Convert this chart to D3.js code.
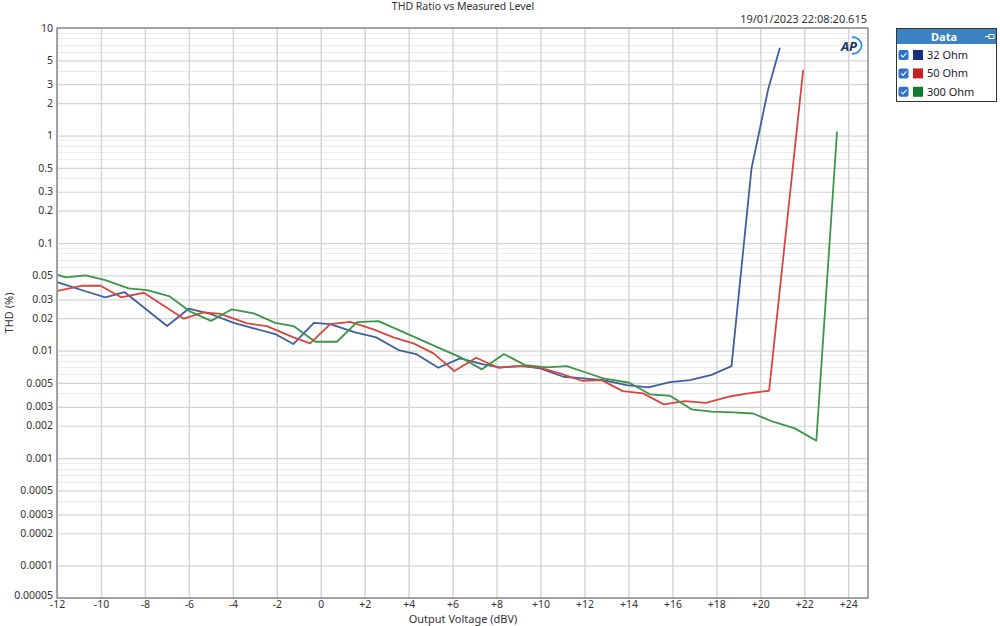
<!DOCTYPE html>
<html>
<head>
<meta charset="utf-8">
<script src="https://cdn.jsdelivr.net/npm/d3@7/dist/d3.min.js"></script>
<style>
  html, body { margin: 0; padding: 0; background: #ffffff; }
  svg { display: block; }
  text { font-family: "Noto Sans", "Open Sans", sans-serif; }
</style>
</head>
<body>
<svg id="chart" width="1000" height="626"></svg>
<script>
// ---- Data ----
const seriesNames = ["32 Ohm", "50 Ohm", "300 Ohm"];
const lineColors = ["#3f5f9f", "#d8463f", "#3b9649"];
const swatchColors = ["#13307a", "#c8201e", "#0e7a2e"];

const blueX = [-11.96, -10.78, -9.80, -8.93, -6.99, -6.01, -5.02, -3.96, -3.05, -2.07, -1.25, -0.31, 0.43, 1.57, 2.52, 3.54, 4.34, 5.35, 6.34, 7.40, 8.16, 9.22, 9.98, 11.04, 11.95, 12.85, 13.92, 14.90, 15.89, 16.80, 17.78, 18.69, 19.60, 20.35, 20.89];
const blueY = [0.0431, 0.0360, 0.0313, 0.0350, 0.0169, 0.0245, 0.0219, 0.0181, 0.0161, 0.01424, 0.01150, 0.0181, 0.01764, 0.01477, 0.01327, 0.01011, 0.00928, 0.00692, 0.00846, 0.00744, 0.00698, 0.00717, 0.00683, 0.00571, 0.00551, 0.00531, 0.00478, 0.00455, 0.00509, 0.00531, 0.00595, 0.00717, 0.495, 2.65, 6.56];

const redX = [-11.96, -10.85, -10.02, -9.08, -8.05, -6.23, -5.33, -4.57, -3.35, -2.45, -1.24, -0.48, 0.43, 1.34, 2.40, 3.31, 4.22, 5.13, 6.08, 7.07, 8.08, 9.07, 9.98, 10.89, 11.87, 12.78, 13.74, 14.67, 15.61, 16.57, 17.52, 18.54, 19.45, 20.40, 21.95];
const redY = [0.0360, 0.0401, 0.0401, 0.0313, 0.0345, 0.0198, 0.0227, 0.0219, 0.0179, 0.0169, 0.01327, 0.01167, 0.01764, 0.01853, 0.01575, 0.01327, 0.01167, 0.00942, 0.00645, 0.00857, 0.00692, 0.00722, 0.00692, 0.00614, 0.00524, 0.00531, 0.00420, 0.00400, 0.00316, 0.00339, 0.00327, 0.00372, 0.00400, 0.00423, 4.07];

const greenX = [-11.96, -11.61, -10.70, -9.80, -8.74, -7.90, -6.87, -5.93, -4.99, -4.04, -3.05, -2.07, -1.24, -0.25, 0.74, 1.65, 2.63, 5.43, 6.34, 7.33, 8.34, 9.30, 10.28, 11.19, 12.10, 12.85, 14.04, 14.98, 15.89, 16.87, 17.78, 18.77, 19.67, 20.58, 21.57, 22.55, 23.49];
const greenY = [0.0507, 0.0480, 0.0501, 0.0453, 0.0379, 0.0365, 0.0319, 0.0230, 0.0189, 0.0242, 0.0222, 0.0181, 0.0169, 0.01208, 0.01208, 0.01841, 0.01881, 0.01048, 0.00870, 0.00669, 0.00928, 0.00733, 0.00698, 0.00717, 0.00622, 0.00551, 0.00502, 0.00392, 0.00380, 0.00284, 0.00270, 0.00266, 0.00260, 0.00218, 0.00189, 0.00145, 1.085];

const xTicks = [-12, -10, -8, -6, -4, -2, 0, 2, 4, 6, 8, 10, 12, 14, 16, 18, 20, 22, 24];
const yTicks = [10, 5, 3, 2, 1, 0.5, 0.3, 0.2, 0.1, 0.05, 0.03, 0.02, 0.01, 0.005, 0.003, 0.002, 0.001, 0.0005, 0.0003, 0.0002, 0.0001, 0.00005];
const yTickLabels = ["10", "5", "3", "2", "1", "0.5", "0.3", "0.2", "0.1", "0.05", "0.03", "0.02", "0.01", "0.005", "0.003", "0.002", "0.001", "0.0005", "0.0003", "0.0002", "0.0001", "0.00005"];
const yMinorMantissas = [4, 6, 7, 8, 9];
const decades = [0.0001, 0.001, 0.01, 0.1, 1];

const titleText = "THD Ratio vs Measured Level";
const stampText = "19/01/2023 22:08:20.615";
const xLabelText = "Output Voltage (dBV)";
const yLabelText = "THD (%)";

// ---- Layout ----
const L = 57, R = 868, T = 28, B = 598;
const svg = d3.select("#chart");

const x = d3.scaleLinear().domain([-12, 24.9]).range([L, R]);
const y = d3.scaleLog().domain([0.00005, 10]).range([B, T]);

// minor gridlines
const minorVals = [];
decades.forEach(d => yMinorMantissas.forEach(m => minorVals.push(m * d)));
const gMinor = svg.append("g");
gMinor.selectAll("line").data(minorVals.filter(v => v > 0.00005 && v < 10)).enter().append("line")
  .attr("x1", L).attr("x2", R)
  .attr("y1", d => Math.round(y(d)) + 0.5).attr("y2", d => Math.round(y(d)) + 0.5)
  .attr("stroke", "#ececec").attr("stroke-width", 1);

// major gridlines via axes
const yAxis = d3.axisLeft(y).tickValues(yTicks).tickSize(-(R - L)).tickFormat((d, i) => yTickLabels[i]);
const gy = svg.append("g").attr("transform", `translate(${L},0)`).call(yAxis);
gy.select(".domain").remove();
gy.selectAll(".tick line").attr("stroke", "#d4d4d4").attr("stroke-width", 1.2);
gy.selectAll(".tick text").attr("x", -4).attr("dy", "0.3em").attr("fill", "#333").style("font-size", "10.5px")
  .style("font-family", "'Noto Sans', sans-serif");
// lowest label sits slightly higher, as in the reference
gy.selectAll(".tick text").filter(d => d === 0.00005).attr("dy", "0.05em");

const xAxis = d3.axisBottom(x).tickValues(xTicks).tickSize(-(B - T))
  .tickFormat(d => d > 0 ? "+" + d : String(d));
const gx = svg.append("g").attr("transform", `translate(0,${B})`).call(xAxis);
gx.select(".domain").remove();
gx.selectAll(".tick line").attr("stroke", "#d4d4d4").attr("stroke-width", 1.4);
gx.selectAll(".tick text").attr("y", 3).attr("fill", "#333").style("font-size", "10.5px")
  .style("font-family", "'Noto Sans', sans-serif");

// plot frame
svg.append("rect").attr("x", L).attr("y", T).attr("width", R - L).attr("height", B - T)
  .attr("fill", "none").attr("stroke", "#8a8a8a").attr("stroke-width", 1.5);

// lines
const seriesX = [blueX, redX, greenX];
const seriesY = [blueY, redY, greenY];
const line = d3.line().x(d => x(d[0])).y(d => y(d[1]));
seriesX.forEach((xs, i) => {
  const pts = xs.map((v, j) => [v, seriesY[i][j]]);
  svg.append("path").datum(pts).attr("d", line)
    .attr("fill", "none").attr("stroke", lineColors[i]).attr("stroke-width", 1.8)
    .attr("stroke-linejoin", "round");
});

// texts
svg.append("text").attr("x", 463).attr("y", 10).attr("text-anchor", "middle")
  .style("font-size", "10.5px").attr("fill", "#333").text(titleText);
svg.append("text").attr("x", 867).attr("y", 23).attr("text-anchor", "end")
  .style("font-size", "11px").attr("fill", "#333").text(stampText);
svg.append("text").attr("x", 463).attr("y", 623).attr("text-anchor", "middle")
  .style("font-size", "11px").attr("fill", "#333").text(xLabelText);
svg.append("text").attr("transform", "translate(13,313) rotate(-90)").attr("text-anchor", "middle")
  .style("font-size", "11px").attr("fill", "#333").text(yLabelText);

// AP logo
const logo = svg.append("g").attr("transform", "translate(850,46)");
logo.append("path").attr("d", "M 2 -9 A 9 8 0 0 1 2 8").attr("fill", "none")
  .attr("stroke", "#3c8fd6").attr("stroke-width", 1.8);
logo.append("text").attr("x", -1).attr("y", 4.5).attr("text-anchor", "middle")
  .style("font-size", "13px").style("font-weight", "bold").style("font-style", "italic")
  .attr("fill", "#1b3566").text("AP");

// legend
const lg = svg.append("g");
lg.append("rect").attr("x", 896.5).attr("y", 28.5).attr("width", 100).attr("height", 73)
  .attr("fill", "#fff").attr("stroke", "#333").attr("stroke-width", 1);
lg.append("rect").attr("x", 897).attr("y", 29).attr("width", 99).attr("height", 15).attr("fill", "#3a82c2");
lg.append("text").attr("x", 944).attr("y", 41).attr("text-anchor", "middle")
  .style("font-size", "11px").style("font-weight", "bold").attr("fill", "#fff").text("Data");
// pin icon
lg.append("path").attr("d", "M 985 36.5 L 989 36.5 M 989 34 L 989 39 M 989 34.5 L 994 34.5 L 994 38.5 L 989 38.5")
  .attr("fill", "none").attr("stroke", "#fff").attr("stroke-width", 1);
seriesNames.forEach((name, i) => {
  const cy = 55 + i * 18.4;
  lg.append("rect").attr("x", 898.5).attr("y", cy - 5).attr("width", 10).attr("height", 10).attr("rx", 2)
    .attr("fill", "#2f72c8");
  lg.append("path").attr("d", `M 901 ${cy} L 903 ${cy + 2} L 906.5 ${cy - 2}`)
    .attr("fill", "none").attr("stroke", "#fff").attr("stroke-width", 1.1);
  lg.append("rect").attr("x", 913).attr("y", cy - 5).attr("width", 10).attr("height", 10)
    .attr("fill", swatchColors[i]);
  lg.append("text").attr("x", 927).attr("y", cy + 4).style("font-size", "11px").attr("fill", "#222").text(name);
});
</script>
</body>
</html>
